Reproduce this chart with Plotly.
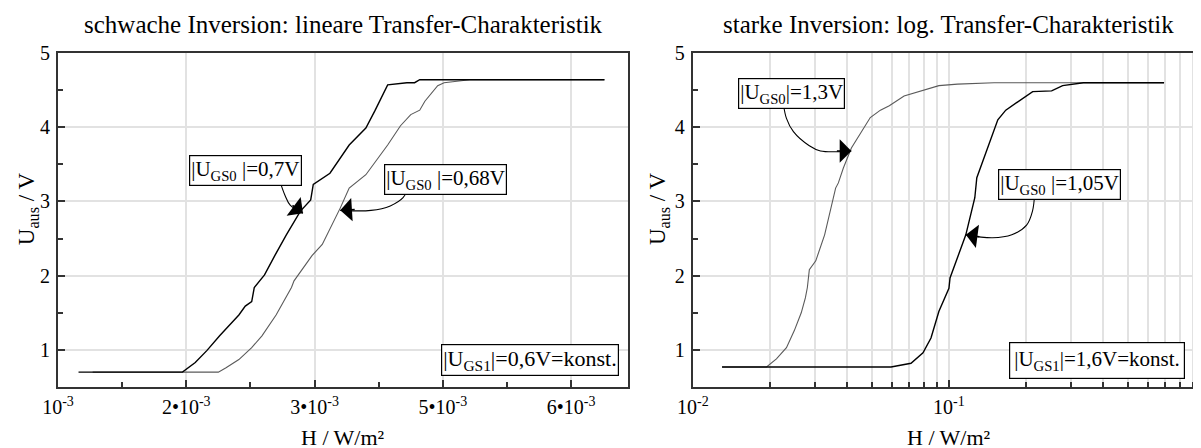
import math
import plotly.graph_objects as go

# ---------------- data ----------------
# left panel (weak inversion, linear axis), H in W/m^2
left_h_07 = [1.16e-3, 1.97e-3, 2.07e-3, 2.16e-3, 2.26e-3, 2.34e-3, 2.41e-3, 2.46e-3, 2.51e-3, 2.53e-3,
             2.61e-3, 2.69e-3, 2.78e-3, 2.89e-3, 2.97e-3, 2.99e-3, 3.12e-3, 3.27e-3, 3.40e-3, 3.47e-3,
             3.57e-3, 3.72e-3, 3.78e-3, 3.82e-3, 5.26e-3]
left_u_07 = [0.70, 0.70, 0.83, 0.99, 1.19, 1.34, 1.47, 1.59, 1.65, 1.84,
             2.01, 2.27, 2.55, 2.87, 3.02, 3.23, 3.38, 3.76, 3.99, 4.22,
             4.57, 4.60, 4.60, 4.64, 4.64]

left_h_068 = [1.27e-3, 2.25e-3, 2.31e-3, 2.41e-3, 2.51e-3, 2.59e-3, 2.70e-3, 2.82e-3, 2.84e-3, 2.98e-3,
              3.06e-3, 3.20e-3, 3.27e-3, 3.40e-3, 3.57e-3, 3.67e-3, 3.75e-3, 3.82e-3, 3.86e-3, 3.93e-3,
              3.96e-3, 4.01e-3, 4.21e-3, 5.26e-3]
left_u_068 = [0.70, 0.70, 0.76, 0.87, 1.03, 1.19, 1.47, 1.84, 1.93, 2.27,
              2.42, 2.91, 3.18, 3.36, 3.76, 4.02, 4.17, 4.23, 4.35, 4.49,
              4.56, 4.60, 4.64, 4.64]

# right panel (strong inversion, log axis)
right_h_13 = [0.0130, 0.0194, 0.0212, 0.0232, 0.0249, 0.0265, 0.0275, 0.0280, 0.0285, 0.0302,
              0.0327, 0.0361, 0.0370, 0.0387, 0.0416, 0.0447, 0.0493, 0.0540, 0.0585, 0.0668,
              0.0800, 0.0914, 0.108, 0.150, 0.692]
right_u_13 = [0.77, 0.77, 0.88, 1.03, 1.26, 1.50, 1.70, 1.84, 2.08, 2.20,
              2.55, 3.18, 3.25, 3.45, 3.72, 3.90, 4.13, 4.23, 4.29, 4.42,
              4.50, 4.56, 4.58, 4.60, 4.60]

right_h_105 = [0.0130, 0.0594, 0.0711, 0.0792, 0.0851, 0.0914, 0.1000, 0.1010, 0.1164, 0.1262,
               0.1285, 0.1406, 0.1552, 0.1667, 0.1871, 0.2123, 0.2518, 0.2780, 0.3350, 0.692]
right_u_105 = [0.77, 0.77, 0.82, 0.96, 1.16, 1.52, 1.83, 1.97, 2.55, 3.05,
               3.32, 3.68, 4.10, 4.23, 4.35, 4.48, 4.49, 4.56, 4.60, 4.60]

# tick labels
left_tickvals = [1e-3, 2e-3, 3e-3, 4e-3, 5e-3]
left_ticktext = ["10<sup>-3</sup>", "2•10<sup>-3</sup>", "3•10<sup>-3</sup>",
                 "5•10<sup>-3</sup>", "6•10<sup>-3</sup>"]
left_minor = [1.5e-3, 2.5e-3, 3.5e-3, 4.5e-3]
right_tickvals = [0.01, 0.1, 1]
right_ticktext = ["10<sup>-2</sup>", "10<sup>-1</sup>", "1"]
right_minor = [k * 0.01 for k in range(2, 10)] + [k * 0.1 for k in range(2, 10)]
y_tickvals = [1, 2, 3, 4, 5]
y_minor = [1.5, 2.5, 3.5, 4.5]

titles = ["schwache Inversion: lineare Transfer-Charakteristik",
          "starke Inversion: log. Transfer-Charakteristik"]
ytitle = "U<sub>aus</sub> / V"
xtitle = "H / W/m²"

FONT = "Liberation Serif, Times New Roman, serif"
BLACK = "#000000"
GRAY = "#5a5a5a"

fig = go.Figure()

def line(x, y, color, width, xa, ya, shape="linear"):
    fig.add_trace(go.Scatter(x=x, y=y, mode="lines", line=dict(color=color, width=width, shape=shape),
                             xaxis=xa, yaxis=ya, showlegend=False, hoverinfo="skip"))

line(left_h_068, left_u_068, GRAY, 1.1, "x", "y")
line(left_h_07, left_u_07, BLACK, 1.4, "x", "y")
line(right_h_13, right_u_13, GRAY, 1.1, "x2", "y2")
line(right_h_105, right_u_105, BLACK, 1.4, "x2", "y2")

# annotation x positions on a log axis are given as log10 of the value
def ax_pos(xa, v):
    return math.log10(v) if xa == "x2" else v

# ---------- callouts: label box, curved connector, arrow tip ----------
callouts = [
    # (xaxis, yaxis, text, box x, box y, connector xs, connector ys, arrow ax, ay)
    ("x", "y", "|U<sub>GS0</sub> |=0,7V", 2.46e-3, 3.42,
     [2.73e-3, 2.77e-3, 2.81e-3, 2.91e-3], [3.27, 3.08, 2.95, 2.84], -12, -9),
    ("x", "y", "|U<sub>GS0</sub> |=0,68V", 4.02e-3, 3.30,
     [3.72e-3, 3.69e-3, 3.59e-3, 3.44e-3, 3.20e-3], [3.15, 3.05, 2.94, 2.88, 2.88], 16, -1),
    ("x2", "y2", "|U<sub>GS0</sub>|=1,3V", 0.0243, 4.46,
     [0.0226, 0.0232, 0.0247, 0.0285, 0.0315, 0.0416], [4.30, 4.12, 3.94, 3.75, 3.68, 3.68], -16, 0),
    ("x2", "y2", "|U<sub>GS0</sub> |=1,05V", 0.270, 3.23,
     [0.216, 0.212, 0.201, 0.176, 0.148, 0.1164], [3.09, 2.87, 2.68, 2.55, 2.51, 2.55], 15, 2),
]

annotations = []
for xa, ya, text, bx, by, cx, cy, ax, ay in callouts:
    line(cx, cy, BLACK, 1.1, xa, ya, shape="spline")
    annotations.append(dict(x=ax_pos(xa, bx), y=by, xref=xa, yref=ya, text=text, showarrow=False,
                            font=dict(family=FONT, size=21, color="#000"),
                            bgcolor="white", bordercolor="#000", borderwidth=1.2, borderpad=1))
    annotations.append(dict(x=ax_pos(xa, cx[-1]), y=cy[-1], xref=xa, yref=ya, text="", showarrow=True,
                            ax=ax, ay=ay, arrowhead=1, arrowsize=2.6, arrowwidth=1.5,
                            arrowcolor="#000", standoff=0))

# constant-gate boxes
annotations.append(dict(x=4.68e-3, y=0.86, xref="x", yref="y", text="|U<sub>GS1</sub>|=0,6V=konst.",
                        showarrow=False, font=dict(family=FONT, size=22, color="#000"),
                        bgcolor="white", bordercolor="#000", borderwidth=1.2, borderpad=1))
annotations.append(dict(x=math.log10(0.380), y=0.86, xref="x2", yref="y2",
                        text="|U<sub>GS1</sub>|=1,6V=konst.",
                        showarrow=False, font=dict(family=FONT, size=21, color="#000"),
                        bgcolor="white", bordercolor="#000", borderwidth=1.2, borderpad=4))

# titles and axis titles
L_DOM = [0.0, 0.497]
R_DOM = [0.5535, 1.0]
for dom, t in zip([L_DOM, R_DOM], titles):
    annotations.append(dict(x=(dom[0] + dom[1]) / 2, y=1.084, xref="paper", yref="paper", text=t,
                            showarrow=False, xanchor="center", yanchor="middle",
                            font=dict(family=FONT, size=25, color="#000")))
    annotations.append(dict(x=(dom[0] + dom[1]) / 2, y=-0.150, xref="paper", yref="paper", text=xtitle,
                            showarrow=False, xanchor="center", yanchor="middle",
                            font=dict(family=FONT, size=22, color="#000")))
annotations.append(dict(x=-0.026, y=0.533, xref="paper", yref="paper", text=ytitle, textangle=-90,
                        showarrow=False, xanchor="center", yanchor="middle",
                        font=dict(family=FONT, size=23, color="#000")))
annotations.append(dict(x=0.524, y=0.533, xref="paper", yref="paper", text=ytitle, textangle=-90,
                        showarrow=False, xanchor="center", yanchor="middle",
                        font=dict(family=FONT, size=23, color="#000")))

GRID = "#e2e2e2"
axis_common = dict(showline=True, linecolor="#333", linewidth=2, mirror=True,
                   ticks="inside", ticklen=7, tickwidth=1.5, tickcolor="#333",
                   showgrid=True, gridcolor=GRID, gridwidth=1.5, zeroline=False,
                   tickfont=dict(family=FONT, size=20, color="#000"))

fig.update_layout(
    width=1201, height=448,
    margin=dict(l=50, r=2, t=45, b=69),
    paper_bgcolor="white", plot_bgcolor="white",
    xaxis=dict(domain=L_DOM, range=[1e-3, 5.444e-3], tickmode="array", tickvals=left_tickvals,
               ticktext=left_ticktext, ticklabelstandoff=1,
               minor=dict(tickvals=left_minor, ticks="inside", ticklen=5, tickcolor="#333", showgrid=False),
               anchor="y", **axis_common),
    yaxis=dict(domain=[0, 1], range=[0.5, 5], tickmode="array", tickvals=y_tickvals,
               minor=dict(tickvals=y_minor, ticks="inside", ticklen=5, tickcolor="#333", showgrid=False),
               anchor="x", ticklabelstandoff=2, **axis_common),
    xaxis2=dict(domain=R_DOM, type="log", range=[-2, 0], tickmode="array", tickvals=right_tickvals,
                ticktext=right_ticktext, ticklabelstandoff=1,
                minor=dict(tickvals=right_minor, ticks="inside", ticklen=5, tickcolor="#333",
                           showgrid=True, gridcolor=GRID, gridwidth=1.5),
                anchor="y2", **axis_common),
    yaxis2=dict(domain=[0, 1], range=[0.5, 5], tickmode="array", tickvals=y_tickvals,
                minor=dict(tickvals=y_minor, ticks="inside", ticklen=5, tickcolor="#333", showgrid=False),
                anchor="x2", ticklabelstandoff=2, **axis_common),
    annotations=annotations,
)

fig.write_html("out.html")
